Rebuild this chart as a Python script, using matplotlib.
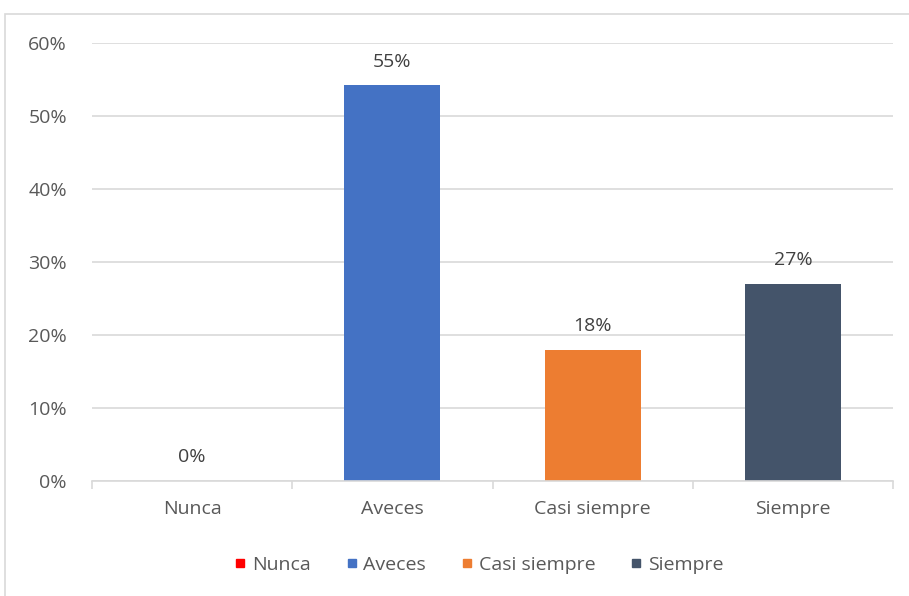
import matplotlib.pyplot as plt
from matplotlib.patches import Rectangle
from matplotlib.lines import Line2D

categories = ['Nunca', 'Aveces', 'Casi siempre', 'Siempre']
values = [0.0, 54.2, 18.0, 27.0]
labels = ['0%', '55%', '18%', '27%']
colors = ['#FF0000', '#4472C4', '#ED7D31', '#44546A']
yticks = [0, 10, 20, 30, 40, 50, 60]

plt.rcParams['font.family'] = ['Open Sans', 'DejaVu Sans']
text_color = '#595959'
grid_color = '#D9D9D9'

fig = plt.figure(figsize=(9.09, 5.96), dpi=100)
ax = fig.add_axes([92 / 909, 1 - 481 / 596, (893 - 92) / 909, (481 - 43) / 596])

x = list(range(len(categories)))
ax.bar(x, values, width=0.48, color=colors, zorder=3)
for xi, v, lab in zip(x, values, labels):
    ax.text(xi, v + 2.0, lab, ha='center', va='bottom', fontsize=14, color='#404040')

ax.set_xlim(-0.5, len(categories) - 0.5)
ax.set_ylim(0, 60)
ax.set_yticks(yticks)
ax.set_yticklabels([f'{t}%' for t in yticks])
ax.set_xticks(x)
ax.set_xticklabels(categories)
ax.set_xticks([i - 0.5 for i in range(len(categories) + 1)], minor=True)
ax.tick_params(axis='x', which='major', length=0, pad=14, labelsize=14, labelcolor=text_color)
ax.tick_params(axis='x', which='minor', length=6, color=grid_color, width=1.2)
ax.tick_params(axis='y', length=0, pad=18, labelsize=14, labelcolor=text_color)
ax.grid(axis='y', color=grid_color, linewidth=1.2, zorder=0)
for s in ['top', 'right', 'left']:
    ax.spines[s].set_visible(False)
ax.spines['bottom'].set_color(grid_color)
ax.spines['bottom'].set_linewidth(1.2)
ax.spines['bottom'].set_zorder(4)

handles = [Line2D([], [], marker='s', linestyle='none', markersize=6,
                  markerfacecolor=c, markeredgecolor=c) for c in colors]
fig.legend(handles, categories, loc='center', bbox_to_anchor=(477 / 909, 1 - 565 / 596),
           ncol=4, frameon=False, fontsize=14, labelcolor=text_color,
           handletextpad=0.1, columnspacing=1.6, handlelength=1.0)

fig.patches.append(Rectangle((5 / 909, -0.1), 1.1, 1 - 14 / 596 + 0.1,
                             transform=fig.transFigure, fill=False,
                             edgecolor=grid_color, linewidth=1.2))

fig.savefig('out.png', dpi=100)
